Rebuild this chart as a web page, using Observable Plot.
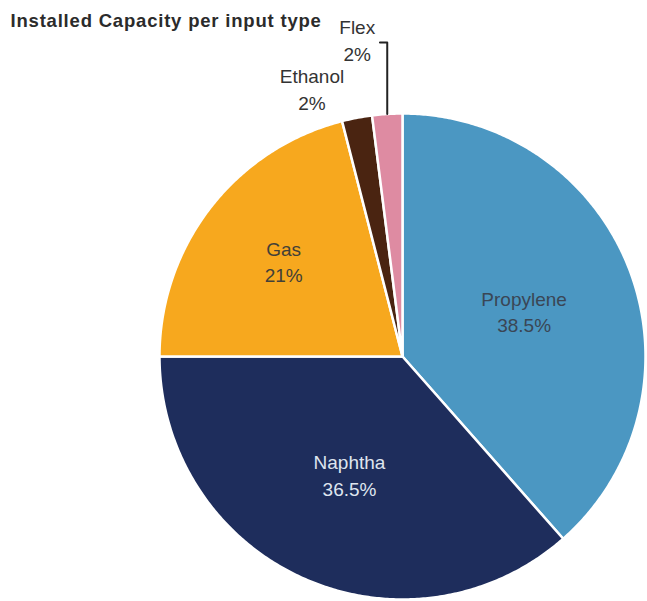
<!DOCTYPE html>
<html>
<head>
<meta charset="utf-8">
<script src="https://cdn.jsdelivr.net/npm/d3@7"></script>
<script src="https://cdn.jsdelivr.net/npm/@observablehq/plot@0.6"></script>
<style>
  body { margin: 0; background: #fff; }
  svg { display: block; }
</style>
</head>
<body>
<div id="chart"></div>
<script>
// Installed capacity shares by input type
const categories = ["Propylene", "Naphtha", "Gas", "Ethanol", "Flex"];
const shares = [38.5, 36.5, 21, 2, 2];
const sliceColors = ["#4b97c2", "#1e2d5c", "#f7a81e", "#4a2411", "#de8ba2"];
const labelColors = ["#3a4655", "#dfe5ef", "#424038", "#333333", "#333333"];
const title = "Installed Capacity per input type";

// Layout of the drawing
const W = 647, H = 601;
const cx = 402, cy = 356, R = 243;           // pie centre and radius in pixels
const labelPlacement = {
  Propylene: {r: 0.535, dx: 0, dy: 0},
  Naphtha:   {r: 0.53,  dx: 0, dy: 0},
  Gas:       {r: 0.645, dx: 5, dy: 0},
  Ethanol:   {r: 1.0,   dx: -45, dy: -30},
  Flex:      {r: 1.0,   dx: -30, dy: -75}
};
const leader = {category: "Flex", rise: 0.294, hook: 0.03};

// Angles (clockwise from 12 o'clock) for each slice
const arcs = d3.pie().sort(null).value(d => d)(shares);
const slices = arcs.map((a, i) => ({
  category: categories[i],
  share: shares[i],
  color: sliceColors[i],
  labelColor: labelColors[i],
  start: a.startAngle,
  end: a.endAngle,
  mid: (a.startAngle + a.endAngle) / 2
}));

// Slice outline in unit coordinates: centre → arc → centre
function outline(s) {
  const n = Math.max(4, Math.ceil((s.end - s.start) / (Math.PI / 360)));
  const pts = [{x: 0, y: 0}];
  for (let k = 0; k <= n; ++k) {
    const t = s.start + (s.end - s.start) * k / n;
    pts.push({x: Math.sin(t), y: Math.cos(t)});
  }
  pts.push({x: 0, y: 0});
  return pts;
}

const labels = slices.map(s => {
  const p = labelPlacement[s.category];
  return {
    text: `${s.category}\n${s.share}%`,
    x: p.r * Math.sin(s.mid),
    y: p.r * Math.cos(s.mid),
    dx: p.dx, dy: p.dy,
    color: s.labelColor
  };
});

const flex = slices.find(s => s.category === leader.category);
const rimX = Math.sin(flex.mid), rimY = Math.cos(flex.mid);
const leaderPts = [
  {x: rimX, y: rimY},
  {x: rimX, y: rimY + leader.rise},
  {x: rimX - leader.hook, y: rimY + leader.rise}
];

const chart = Plot.plot({
  width: W,
  height: H,
  margin: 0,
  style: {fontFamily: "'Liberation Sans', Arial, sans-serif", background: "#fff"},
  x: {domain: [-cx / R, (W - cx) / R], axis: null},
  y: {domain: [-(H - cy) / R, cy / R], axis: null},
  color: {type: "identity"},
  marks: [
    ...slices.map(s => Plot.line(outline(s), {
      x: "x", y: "y",
      fill: s.color,
      stroke: "#fff",
      strokeWidth: 2.5,
      strokeLinejoin: "round",
      curve: "linear"
    })),
    Plot.line(leaderPts, {x: "x", y: "y", stroke: "#222", strokeWidth: 2, curve: "linear"}),
    ...labels.map(l => Plot.text([l], {
      x: "x", y: "y", text: "text",
      dx: l.dx, dy: l.dy,
      fill: l.color,
      fontSize: 19,
      lineHeight: 1.4,
      textAnchor: "middle"
    })),
    Plot.text([title], {
      frameAnchor: "top-left",
      dx: 10, dy: 13,
      lineAnchor: "top",
      textAnchor: "start",
      fontWeight: "bold",
      fontSize: 18.5,
      fill: "#2b2b2b"
    })
  ]
});

// Slightly widen the title's letter spacing
chart.querySelectorAll("text").forEach(t => {
  if (t.textContent === title) t.style.letterSpacing = "0.8px";
});

document.getElementById("chart").appendChild(chart);
</script>
</body>
</html>
